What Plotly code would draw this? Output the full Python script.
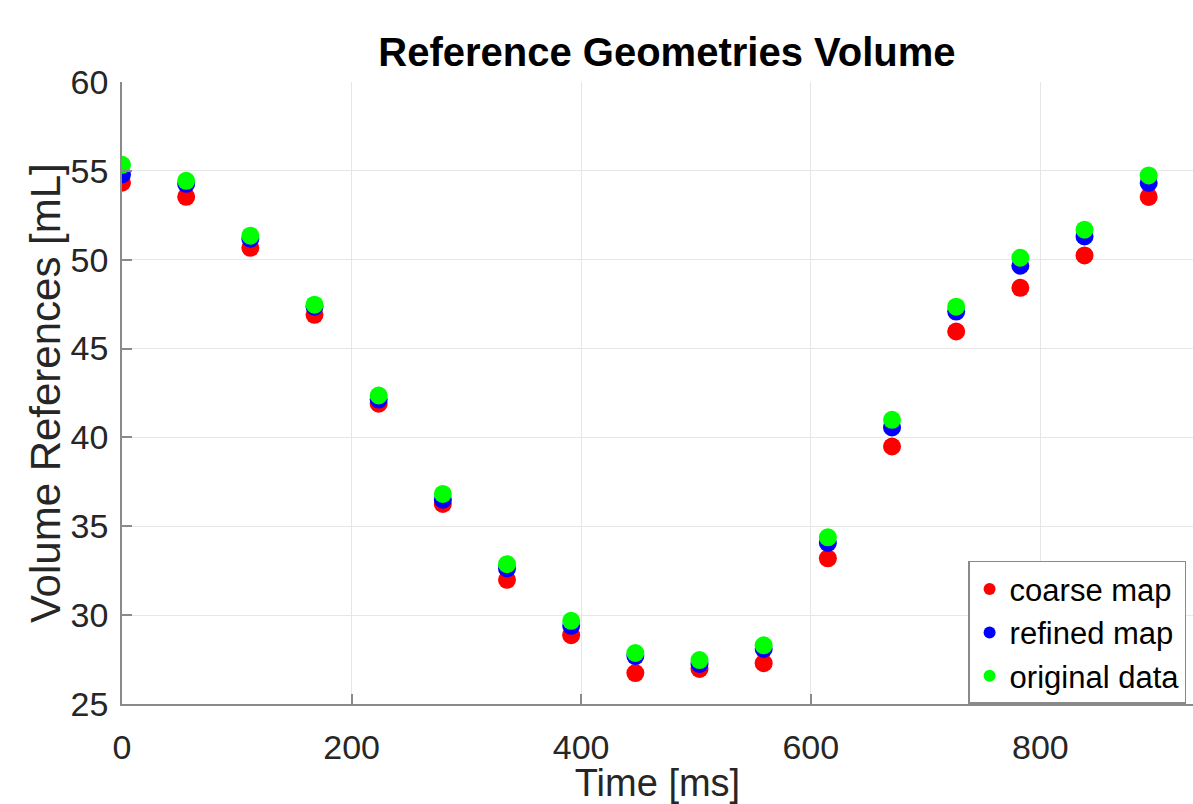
import plotly.graph_objects as go

time_ms = [0, 55.9, 111.8, 167.7, 223.6, 279.5, 335.4, 391.3, 447.2, 503.1, 559.0,
           614.9, 670.8, 726.7, 782.6, 838.5, 894.4]
coarse_map = [54.33, 53.54, 50.67, 46.90, 41.90, 36.26, 31.99, 28.87, 26.74, 26.97, 27.30,
              33.20, 39.49, 45.96, 48.42, 50.24, 53.53]
refined_map = [54.80, 54.27, 51.18, 47.36, 42.13, 36.50, 32.63, 29.40, 27.70, 27.25, 28.10,
               34.06, 40.56, 47.08, 49.66, 51.31, 54.32]
original_data = [55.34, 54.44, 51.35, 47.47, 42.36, 36.82, 32.87, 29.68, 27.87, 27.47, 28.30,
                 34.38, 40.99, 47.36, 50.11, 51.69, 54.74]

x_ticks = [0, 200, 400, 600, 800]
y_ticks = [25, 30, 35, 40, 45, 50, 55, 60]

series = [
    ("coarse map", coarse_map, "#ff0000"),
    ("refined map", refined_map, "#0000ff"),
    ("original data", original_data, "#00ff00"),
]

FONT = "Liberation Sans, Arial, Helvetica, sans-serif"

fig = go.Figure()
for name, vals, col in series:
    fig.add_trace(go.Scatter(
        x=time_ms, y=vals, mode="markers", name=name,
        marker=dict(color=col, size=18, line=dict(width=0)),
    ))

axis_common = dict(
    showgrid=True, gridcolor="#e6e6e6", gridwidth=1,
    showline=True, linecolor="#8a8a8a", linewidth=1.5,
    ticks="inside", ticklen=10, tickcolor="#8a8a8a", tickwidth=1.5,
    tickfont=dict(family=FONT, size=34, color="#262626"),
    zeroline=False, mirror=False,
)

fig.update_layout(
    width=1193, height=804,
    margin=dict(l=122, r=0, t=82, b=100),
    paper_bgcolor="white", plot_bgcolor="white",
    font=dict(family=FONT, color="#262626"),
    title=dict(text="<b>Reference Geometries Volume</b>",
               font=dict(family=FONT, size=40, color="black"),
               x=0.559, xref="container", xanchor="center",
               y=0.935, yref="container", yanchor="middle"),
    xaxis=dict(range=[0, 933], tickvals=x_ticks,
               title=dict(text="Time [ms]", font=dict(family=FONT, size=38, color="#262626"), standoff=12),
               ticklabelstandoff=12, **axis_common),
    yaxis=dict(range=[25, 60], tickvals=y_ticks,
               ticklabelstandoff=5, **axis_common),
    annotations=[dict(text="Volume References [mL]", textangle=-90,
                      xref="paper", yref="paper", x=-0.0718, y=0.5,
                      xanchor="center", yanchor="middle", showarrow=False,
                      font=dict(family=FONT, size=42, color="#262626"))],
    showlegend=True,
    legend=dict(x=0.79, y=0.23, xanchor="left", yanchor="top",
                bgcolor="white", bordercolor="#8a8a8a", borderwidth=1.5,
                font=dict(family=FONT, size=31, color="black"),
                itemsizing="constant", tracegroupgap=0),
)

fig.write_html("out.html", config={"displayModeBar": False},
               post_script="document.body.style.margin='0px';")
